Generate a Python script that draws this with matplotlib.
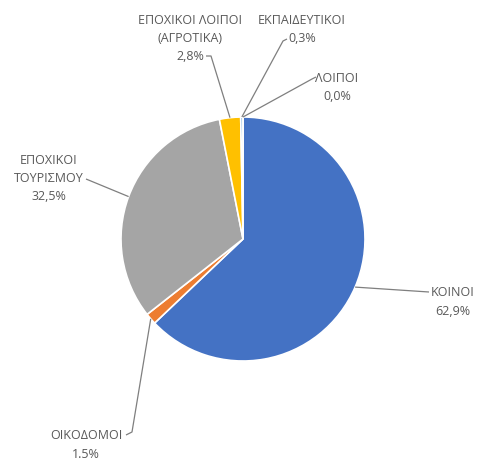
import matplotlib
matplotlib.use("Agg")
import matplotlib.pyplot as plt
import numpy as np

plt.rcParams['font.family'] = ['Open Sans', 'DejaVu Sans']

categories = ["ΚΟΙΝΟΙ", "ΟΙΚΟΔΟΜΟΙ", "ΕΠΟΧΙΚΟΙ\nΤΟΥΡΙΣΜΟΥ", "ΕΠΟΧΙΚΟΙ ΛΟΙΠΟΙ\n(ΑΓΡΟΤΙΚΑ)", "ΕΚΠΑΙΔΕΥΤΙΚΟΙ", "ΛΟΙΠΟΙ"]
values = [62.9, 1.5, 32.5, 2.8, 0.3, 0.0]
value_labels = ["62,9%", "1.5%", "32,5%", "2,8%", "0,3%", "0,0%"]
colors = ["#4472C4", "#ED7D31", "#A5A5A5", "#FFC000", "#5B9BD5", "#70AD47"]

W, H = 478, 460
fig = plt.figure(figsize=(W / 100, H / 100), dpi=100)
ax = fig.add_axes([0, 0, 1, 1])

def Y(y):
    return H - y

cx, cy, R = 243, 240, 122
wedges, _ = ax.pie(values, colors=colors, startangle=90, counterclock=False,
                   center=(cx, Y(cy)), radius=R,
                   wedgeprops=dict(edgecolor="white", linewidth=1.2))
ax.set_xlim(0, W)
ax.set_ylim(0, H)
ax.set_aspect("auto")
ax.axis("off")

# label layout: (text center x, first line y, leader points near label in pixel coords)
layout = [
    (453, 293, [(429, 293)]),
    (86, 436, [(126, 436), (132, 433)]),
    (49, 160, [(86, 180)]),
    (190, 20, [(206, 57), (211, 57)]),
    (302, 20, [(287, 40), (283, 42)]),
    (337, 78, [(316, 78), (312, 80)]),
]

tc = "#595959"
line_h = 18.3
for w, cat, vl, (tx, ty, pts) in zip(wedges, categories, value_labels, layout):
    lines = cat.split("\n") + [vl]
    for i, ln in enumerate(lines):
        ax.text(tx, Y(ty + i * line_h), ln, ha="center", va="center",
                fontsize=9, color=tc)
    ang = np.deg2rad((w.theta1 + w.theta2) / 2)
    ex = w.center[0] + w.r * np.cos(ang)
    ey = w.center[1] + w.r * np.sin(ang)
    xs = [p[0] for p in pts] + [ex]
    ys = [Y(p[1]) for p in pts] + [ey]
    ax.plot(xs, ys, color="#7f7f7f", lw=0.9, solid_capstyle="butt")

fig.savefig("out.png", dpi=100)
